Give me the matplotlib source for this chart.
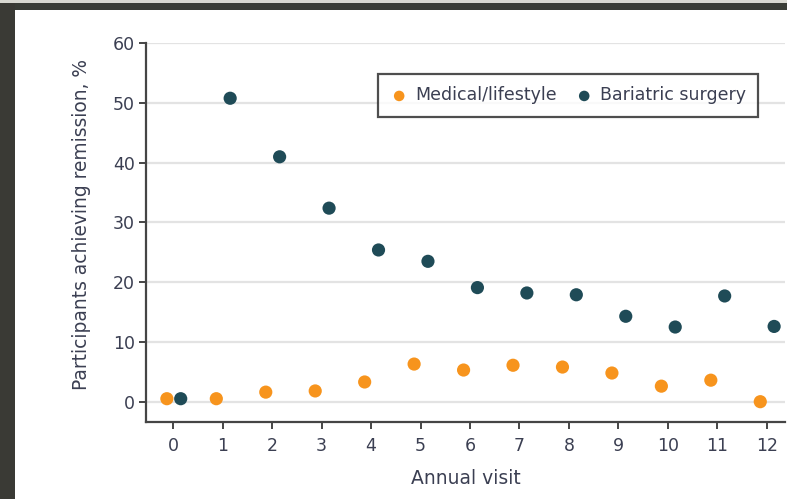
import matplotlib
matplotlib.use("Agg")
import matplotlib.pyplot as plt
from matplotlib.patches import Rectangle

# ---- data ----
visits = [0, 1, 2, 3, 4, 5, 6, 7, 8, 9, 10, 11, 12]
medical = [0.5, 0.5, 1.6, 1.8, 3.3, 6.3, 5.3, 6.1, 5.8, 4.8, 2.6, 3.6, 0.0]
bariatric = [0.5, 50.8, 41.0, 32.4, 25.4, 23.5, 19.1, 18.2, 17.9, 14.3, 12.5, 17.7, 12.6]
series_names = ["Medical/lifestyle", "Bariatric surgery"]
yticks = [0, 10, 20, 30, 40, 50, 60]
xlabel = "Annual visit"
ylabel = "Participants achieving remission, %"

# ---- style ----
ORANGE = "#F7941D"
TEAL = "#1F4B57"
TXT = "#3b3f52"
plt.rcParams["font.family"] = ["DejaVu Sans"]

fig = plt.figure(figsize=(7.87, 4.99), dpi=100)
W, H = 787, 499
# screenshot frame
fig.patches.append(Rectangle((0, 0), 1, 1, transform=fig.transFigure,
                             facecolor="white", edgecolor="none", zorder=-10))
fig.patches.append(Rectangle((0, 1 - 10 / H), 1, 10 / H, transform=fig.transFigure,
                             facecolor="#3a3d37", edgecolor="none", zorder=-5))
fig.patches.append(Rectangle((0, 1 - 3 / H), 1, 3 / H, transform=fig.transFigure,
                             facecolor="#d9d9d2", edgecolor="none", zorder=-4))
fig.patches.append(Rectangle((0, 0), 15 / W, 1 - 3 / H, transform=fig.transFigure,
                             facecolor="#3a3a35", edgecolor="none", zorder=-5))

ax_l, ax_r, ax_t, ax_b = 146, 785, 43.3, 422
ax = fig.add_axes([ax_l / W, 1 - ax_b / H, (ax_r - ax_l) / W, (ax_b - ax_t) / H])
ax.set_facecolor("none")

off_m, off_b = -0.13, 0.15
ax.scatter([v + off_m for v in visits], medical, s=90, color=ORANGE,
           edgecolors="none", zorder=3, label=series_names[0])
ax.scatter([v + off_b for v in visits], bariatric, s=90, color=TEAL,
           edgecolors="none", zorder=3, label=series_names[1])

ax.set_xlim(-0.552, 12.37)
ax.set_ylim(-3.4, 60)
ax.set_xticks(visits)
ax.set_yticks(yticks)
ax.yaxis.grid(True, color="#e3e3e3", lw=1.6, zorder=0)
ax.set_axisbelow(True)

for s in ["top", "right"]:
    ax.spines[s].set_visible(False)
for s in ["left", "bottom"]:
    ax.spines[s].set_color("#454545")
    ax.spines[s].set_linewidth(1.6)

ax.tick_params(axis="both", length=5, width=1.4, color="#454545",
               labelsize=12.5, labelcolor=TXT)
ax.tick_params(axis="x", pad=6)
ax.tick_params(axis="y", pad=3)

ax.set_xlabel(xlabel, fontsize=13.5, color=TXT, labelpad=10)
ax.set_ylabel(ylabel, fontsize=13.4, color=TXT)
ax.yaxis.set_label_coords((91 - ax_l) / (ax_r - ax_l), (ax_b - 224) / (ax_b - ax_t))

leg = ax.legend(loc="upper left",
                bbox_to_anchor=((378 - ax_l) / (ax_r - ax_l), 1 - (74 - ax_t) / (ax_b - ax_t)),
                borderaxespad=0, ncol=2, frameon=True, fancybox=False, fontsize=12.5,
                handletextpad=0.4, columnspacing=1.1, borderpad=0.72,
                markerscale=0.8, handlelength=1.0)
leg.get_frame().set_edgecolor("#222222")
leg.get_frame().set_linewidth(1.6)
for t in leg.get_texts():
    t.set_color(TXT)

fig.savefig("out.png", dpi=100)
